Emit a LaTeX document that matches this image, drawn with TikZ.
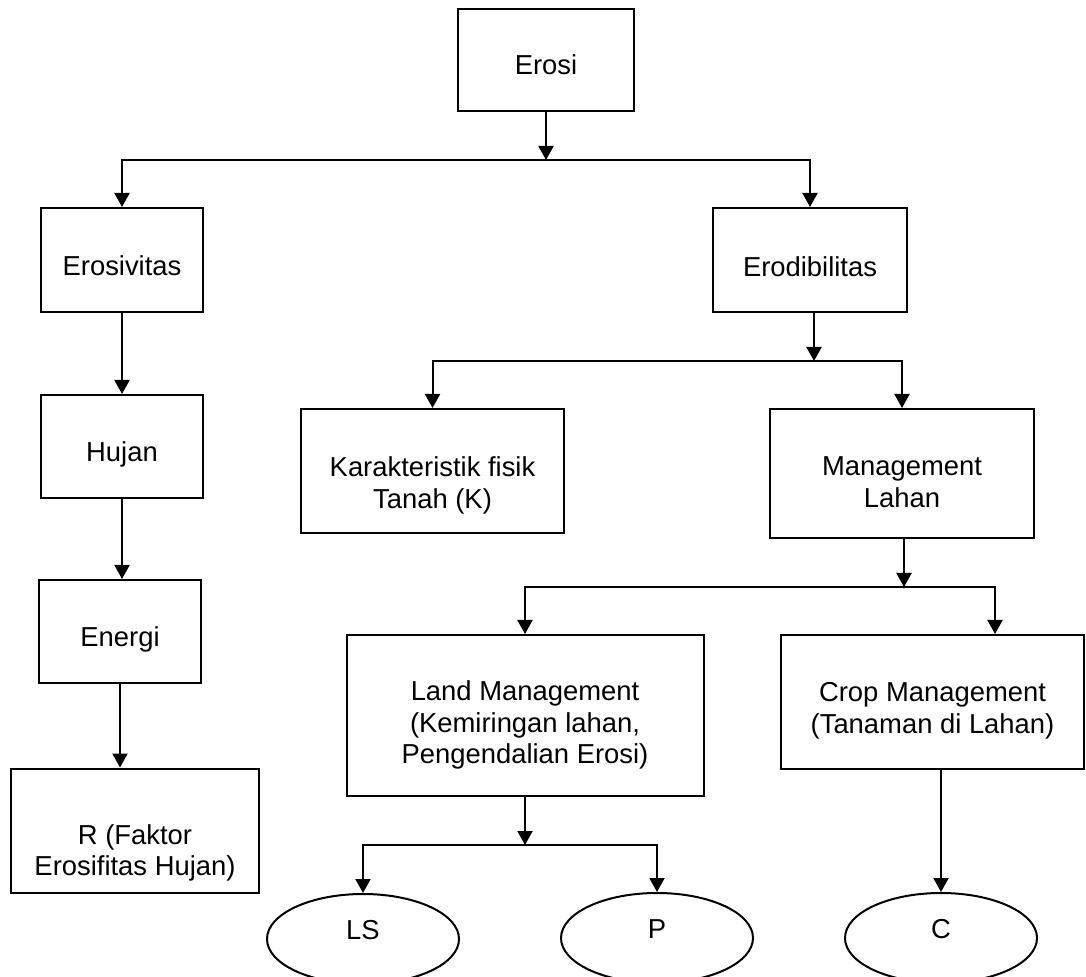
\documentclass[tikz,border=0pt]{standalone}
\usepackage{fontspec}
\setmainfont{Liberation Sans}
\usetikzlibrary{arrows.meta,shapes.geometric}
\newcommand{\bxt}[4]{\parbox[c][#2][t]{#1}{\centering\rule{0pt}{#3}#4\par}}
\newcommand{\ovt}[1]{\raisebox{4.5pt}[\height][\depth]{#1}}
\begin{document}
\begin{tikzpicture}[x=0.5pt,y=-0.5pt,
  every node/.style={font=\fontsize{13.7}{15.75}\selectfont},
  box/.style={draw, line width=1pt, rectangle, inner sep=0pt},
  oval/.style={draw, line width=1pt, ellipse, inner sep=0pt, minimum width=96pt, minimum height=45pt},
  arr/.style={line width=1pt, -{Triangle[length=7pt,width=7.5pt]}}]
\useasboundingbox (0,0) rectangle (1086,977);
\clip (0,0) rectangle (1086,977);

\node[box] (erosi) at (546,60) {\bxt{88pt}{51pt}{33pt}{Erosi}};
\node[box] (erosivitas) at (122,260) {\bxt{81pt}{52pt}{33.9pt}{Erosivitas}};
\node[box] (erodibilitas) at (810,260) {\bxt{97pt}{52pt}{34.4pt}{Erodibilitas}};
\node[box] (hujan) at (122,446.5) {\bxt{81pt}{51.5pt}{33.4pt}{Hujan}};
\node[box] (energi) at (120,631.5) {\bxt{81pt}{51.5pt}{33.4pt}{Energi}};
\node[box] (r) at (135,830.5) {\bxt{124pt}{62pt}{37.9pt}{R (Faktor\\Erosifitas Hujan)}};
\node[box] (kar) at (432.5,471) {\bxt{131.5pt}{62pt}{33.9pt}{Karakteristik fisik\\Tanah (K)}};
\node[box] (ml) at (902,473.5) {\bxt{132pt}{64.5pt}{33.4pt}{Management\\Lahan}};
\node[box] (land) at (525,715.5) {\bxt{178.5pt}{80.5pt}{32.9pt}{Land Management\\(Kemiringan lahan,\\Pengendalian Erosi)}};
\node[box] (crop) at (932.5,702) {\bxt{151.5pt}{67pt}{33.4pt}{Crop Management\\(Tanaman di Lahan)}};
\node[oval] (ls) at (363,939) {\ovt{LS}};
\node[oval] (p) at (657,938) {\ovt{P}};
\node[oval] (c) at (941,938) {\ovt{C}};

\coordinate (j1) at (546,160);
\coordinate (j2) at (814,361);
\coordinate (j3) at (904,587);
\coordinate (j4) at (525,845);

\draw[arr] (erosi.south) -- (j1);
\draw[arr] (j1) -| (erosivitas.north);
\draw[arr] (j1) -| (erodibilitas.north);
\draw[arr] (erosivitas.south) -- (hujan.north);
\draw[arr] (hujan.south) -- (hujan.south |- energi.north);
\draw[arr] (energi.south) -- (energi.south |- r.north);
\draw[arr] (erodibilitas.south -| j2) -- (j2);
\draw[arr] (j2) -| (kar.north);
\draw[arr] (j2) -| (ml.north);
\draw[arr] (ml.south -| j3) -- (j3);
\draw[arr] (j3) -| (land.north);
\draw[arr] (j3) -| ([xshift=31.25pt]crop.north);
\draw[arr] (land.south) -- (j4);
\draw[arr] (j4) -| (ls.north);
\draw[arr] (j4) -| (p.north);
\draw[arr] (crop.south -| c) -- (c.north);
\end{tikzpicture}
\end{document}
